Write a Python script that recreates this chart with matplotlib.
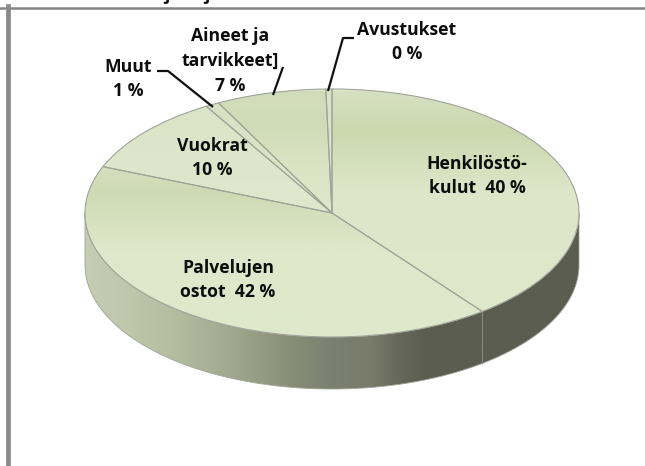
import numpy as np
import matplotlib
matplotlib.use("Agg")
import matplotlib.pyplot as plt
from matplotlib.colors import LinearSegmentedColormap
from matplotlib.patches import Polygon
from matplotlib.transforms import Affine2D

categories = ["Henkilöstökulut", "Palvelujen ostot", "Vuokrat", "Muut", "Aineet ja tarvikkeet", "Avustukset"]
values = [39.6, 41.5, 10.4, 0.9, 7.2, 0.4]
label_texts = ["Henkilöstö-\nkulut  40 %", "Palvelujen\nostot  42 %", "Vuokrat\n10 %", "Muut\n1 %",
               "Aineet ja\ntarvikkeet]\n7 %", "Avustukset\n0 %"]
label_pos = [(477, 176), (228, 280), (212, 158), (128, 79), (230, 61), (407, 42)]

W, H = 645, 466
CX, CY, RX, RY, DEPTH = 332, 213, 247, 124, 52

plt.rcParams['font.family'] = ['Open Sans', 'DejaVu Sans']
fig = plt.figure(figsize=(W / 100, H / 100), dpi=100)
ax = fig.add_axes([0, 0, 1, 1])
px = Affine2D().scale(1, -1).translate(0, H)


def limits():
    ax.set_aspect('auto')
    ax.set_xlim(-CX / RX, (W - CX) / RX)
    ax.set_ylim((CY - H) / RY, CY / RY)
    ax.axis('off')


def to_y(p):
    return (CY - p) / RY


# side wall
wall_stops = [(85, '#c6cdb4'), (130, '#bfc6aa'), (180, '#b3bb9f'), (230, '#a2a88e'), (290, '#898e77'),
              (330, '#7c8070'), (370, '#797c6b'), (400, '#65675a'), (425, '#5b5d4f'), (579, '#5b5d4f')]
cm = LinearSegmentedColormap.from_list('wall', [((x - 85) / 494, c) for x, c in wall_stops])
t = np.linspace(np.pi, 2 * np.pi, 300)
xs, ys = np.cos(t), np.sin(t)
d = DEPTH / RY
wall = Polygon(np.r_[np.c_[xs, ys], np.c_[xs[::-1], ys[::-1] - d]], closed=True,
               facecolor='none', edgecolor='#a0a498', lw=0.6, zorder=2)
ax.add_patch(wall)
im = ax.imshow(np.linspace(0, 1, 512)[None, :], cmap=cm, aspect='auto', zorder=1,
               extent=(-1, 1, to_y(400), to_y(200)))
im.set_clip_path(wall)

# top face
wedges, _ = ax.pie(values, startangle=90, counterclock=False, radius=1, center=(0, 0),
                   wedgeprops=dict(facecolor='#dfe8cb', edgecolor='none', zorder=3))
slice_grads = [
    [(91, '#d7e0c3'), (130, '#cbd8ae'), (190, '#dde6c9'), (313, '#dfe8cb')],
    [(167, '#d6dfbe'), (192, '#cedab3'), (250, '#dfe8cb'), (338, '#dfe8cb')],
    [(107, '#dbe4c6'), (150, '#dde6ca'), (213, '#dfe8cd')],
    [(104, '#d8e2c2'), (213, '#dfe8cb')],
    [(91, '#d3ddbb'), (125, '#d0dbb7'), (165, '#dae4c4'), (213, '#dfe8cb')],
    [(91, '#dae3c6'), (213, '#dfe8cb')],
]
for wedge, stops in zip(wedges, slice_grads):
    lo, hi = stops[0][0], stops[-1][0]
    c = LinearSegmentedColormap.from_list('g', [((y - lo) / (hi - lo), col) for y, col in stops])
    g = ax.imshow(np.linspace(0, 1, 256)[:, None], cmap=c, aspect='auto', origin='upper', zorder=4,
                  extent=(-1, 1, to_y(hi), to_y(lo)))
    g.set_clip_path(wedge)
ax.pie(values, startangle=90, counterclock=False, radius=1, center=(0, 0),
       wedgeprops=dict(facecolor='none', edgecolor='#a0a498', lw=0.8, zorder=5))
limits()

# crack on wall at the boundary between the first two slices
th = np.deg2rad(values[0] * 3.6)
bx, by = np.sin(th), np.cos(th)
ax.plot([bx, bx], [by, by - d], color='#85887b', lw=0.8, zorder=3)

# leader lines (pixel coordinates)
leaders = [
    ([157, 168, 213], [71, 71, 107]),
    ([273, 283], [95, 67]),
    ([328, 343, 354], [91, 38, 38]),
]
for lx, ly in leaders:
    ax.plot(lx, ly, color='#111111', lw=1.6, transform=px, zorder=6,
            solid_capstyle='butt', clip_on=False)

for s, (x, y) in zip(label_texts, label_pos):
    ax.text(x, y, s, transform=px, ha='center', va='center', fontsize=12.7, fontweight='bold',
            color='#0d0d0d', linespacing=1.47, zorder=7)

# page rules
ax.plot([0, W], [7.5, 7.5], color='#858585', lw=1.8, transform=px, zorder=8, clip_on=False)
ax.plot([7.5, 7.5], [6, H], color='#8a8a8a', lw=3.4, transform=px, zorder=8, clip_on=False)

# cut-off descenders of the heading above the frame
for x in (167, 207):
    ax.text(x, -5, 'j', transform=px, ha='center', va='center', fontsize=12.7, fontweight='bold', color='#111111')

limits()
fig.savefig('out.png', dpi=100)
